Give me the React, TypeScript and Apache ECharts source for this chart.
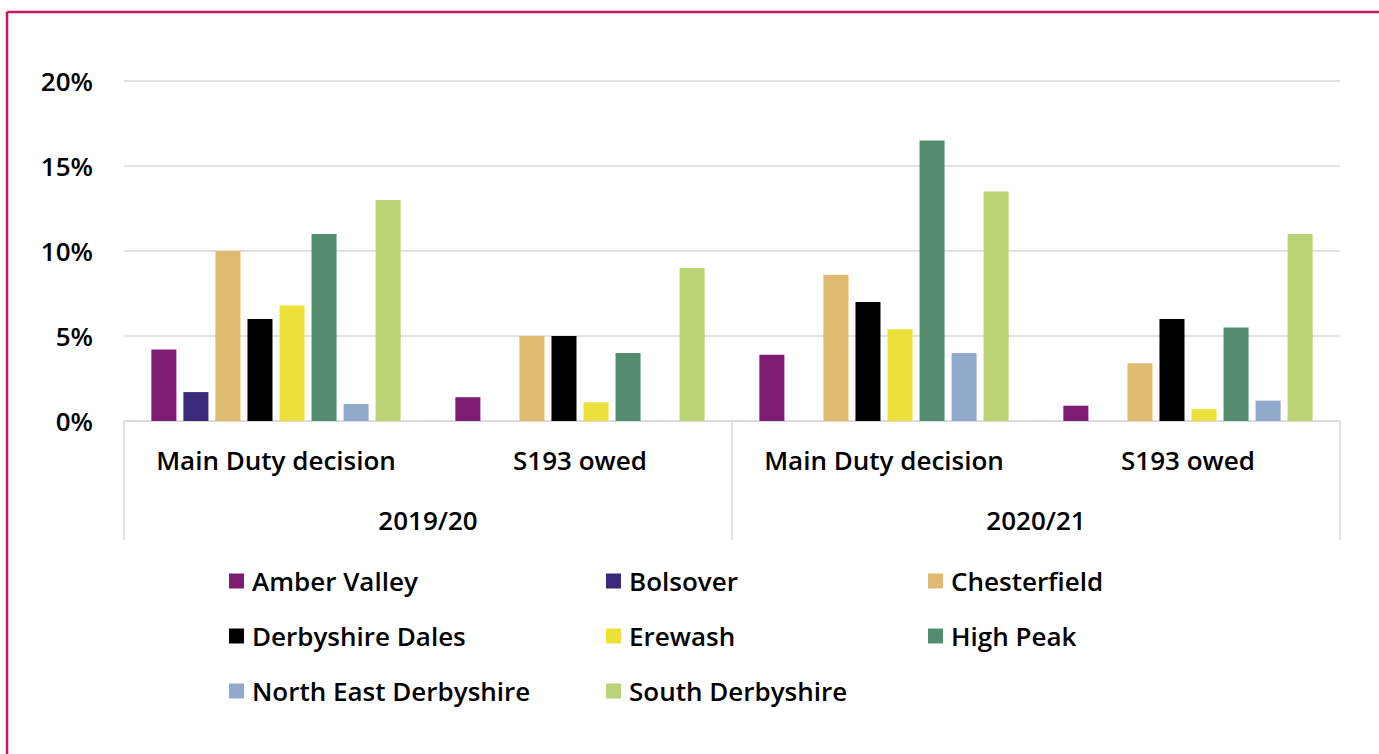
import React, { useEffect, useRef } from "react";
import * as echarts from "echarts";

const categories = ["Main Duty decision", "S193 owed", "Main Duty decision", "S193 owed"];
const years = ["2019/20", "2020/21"];
const yTicks = [0, 5, 10, 15, 20];

const seriesNames = [
  "Amber Valley",
  "Bolsover",
  "Chesterfield",
  "Derbyshire Dales",
  "Erewash",
  "High Peak",
  "North East Derbyshire",
  "South Derbyshire",
];

const amberValley = [4.2, 1.4, 3.9, 0.9];
const bolsover = [1.7, 0, 0, 0];
const chesterfield = [10, 5, 8.6, 3.4];
const derbyshireDales = [6, 5, 7, 6];
const erewash = [6.8, 1.1, 5.4, 0.7];
const highPeak = [11, 4, 16.5, 5.5];
const northEastDerbyshire = [1, 0, 4, 1.2];
const southDerbyshire = [13, 9, 13.5, 11];

const seriesValues = [
  amberValley,
  bolsover,
  chesterfield,
  derbyshireDales,
  erewash,
  highPeak,
  northEastDerbyshire,
  southDerbyshire,
];

const colors = ["#7f1c74", "#3b2a7a", "#dfba70", "#000000", "#ece13a", "#548c70", "#91aacb", "#b9d376"];

const FONT = "'Open Sans', 'Noto Sans', sans-serif";
const WEIGHT = 600;
const SIZE = 26;

export default function App() {
  const ref = useRef<HTMLDivElement>(null);
  useEffect(() => {
    if (!ref.current) return;
    const chart = echarts.init(ref.current, undefined, { renderer: "svg" });
    const legendBase = {
      orient: "vertical" as const,
      top: 568,
      icon: "rect",
      itemWidth: 15,
      itemHeight: 15,
      itemGap: 29,
      textStyle: { fontFamily: FONT, fontSize: SIZE, fontWeight: WEIGHT, color: "#000", padding: [0, 0, 0, 3] },
      padding: 0,
    };
    chart.setOption({
      animation: false,
      color: colors,
      textStyle: { fontFamily: FONT },
      grid: { left: 124, right: 39, top: 81, bottom: 333, containLabel: false },
      legend: [
        { ...legendBase, left: 229, data: [seriesNames[0], seriesNames[3], seriesNames[6]] },
        { ...legendBase, left: 606, data: [seriesNames[1], seriesNames[4], seriesNames[7]] },
        { ...legendBase, left: 928, data: [seriesNames[2], seriesNames[5]] },
      ],
      xAxis: [
        {
          type: "category",
          data: categories,
          position: "bottom",
          axisLine: { show: true, lineStyle: { color: "#d9d9d9", width: 1.5 } },
          axisTick: { show: false },
          axisLabel: { fontFamily: FONT, fontSize: SIZE, fontWeight: WEIGHT, color: "#000", margin: 26, interval: 0 },
        },
        {
          type: "category",
          data: years,
          position: "bottom",
          axisLine: { show: false },
          axisTick: { show: true, length: 119, lineStyle: { color: "#d9d9d9", width: 1.5 } },
          axisLabel: { fontFamily: FONT, fontSize: SIZE, fontWeight: WEIGHT, color: "#000", margin: 86, interval: 0 },
        },
      ],
      yAxis: {
        type: "value",
        min: 0,
        max: 20,
        interval: 5,
        axisLine: { show: false },
        axisTick: { show: false },
        splitLine: { lineStyle: { color: "#d9d9d9", width: 1.5 } },
        axisLabel: {
          fontFamily: FONT,
          fontSize: SIZE,
          fontWeight: WEIGHT,
          color: "#000",
          margin: 31,
          formatter: (v: number) => (yTicks.includes(v) ? `${v}%` : ""),
        },
      },
      series: seriesNames.map((name, i) => ({
        name,
        type: "bar",
        xAxisIndex: 0,
        data: seriesValues[i],
        barGap: "28%",
        barCategoryGap: "18%",
        itemStyle: { color: colors[i] },
      })),
      graphic: [
        {
          type: "line",
          shape: { x1: 7, y1: 12, x2: 1379, y2: 12 },
          style: { stroke: "#c8165f", lineWidth: 2.5 },
        },
        {
          type: "line",
          shape: { x1: 7, y1: 12, x2: 7, y2: 754 },
          style: { stroke: "#c8165f", lineWidth: 2.5 },
        },
      ],
    });
    return () => chart.dispose();
  }, []);
  return (
    <div
      ref={ref}
      style={{ position: "fixed", left: 0, top: 0, width: 1379, height: 754, background: "#fff" }}
    />
  );
}
